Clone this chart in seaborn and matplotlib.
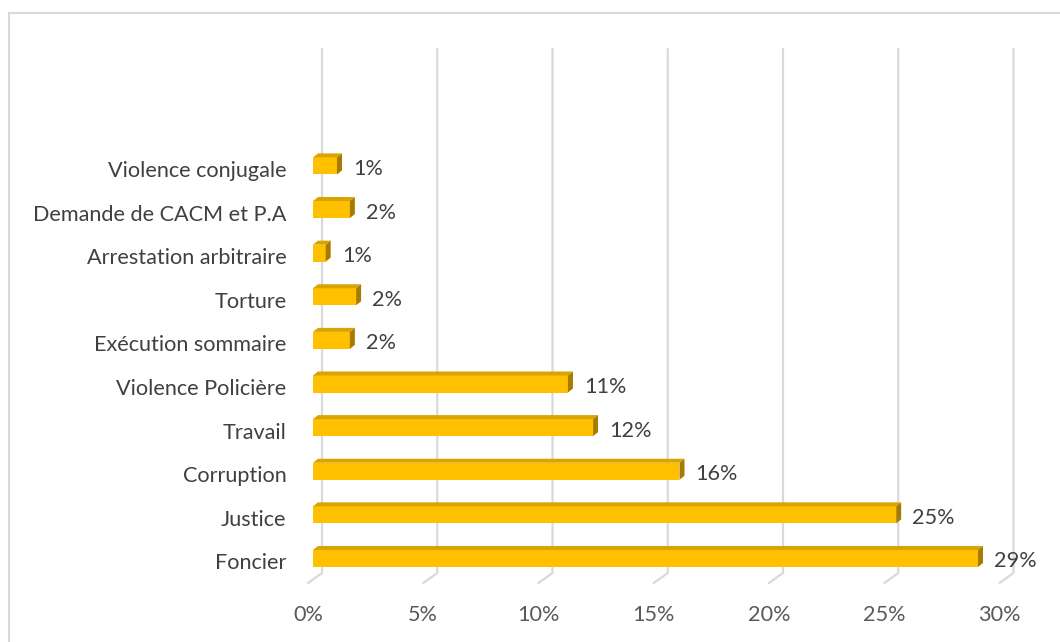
import matplotlib
matplotlib.use("Agg")
import matplotlib.pyplot as plt
import seaborn as sns
import pandas as pd
from matplotlib.patches import Polygon, Rectangle
from matplotlib.lines import Line2D
from matplotlib.transforms import IdentityTransform, ScaledTranslation

categories = ["Violence conjugale", "Demande de CACM et P.A", "Arrestation arbitraire",
              "Torture", "Exécution sommaire", "Violence Policière", "Travail",
              "Corruption", "Justice", "Foncier"]
values = [1.04, 1.6, 0.55, 1.87, 1.6, 11.06, 12.15, 15.9, 25.3, 28.85]
value_labels = ["1%", "2%", "1%", "2%", "2%", "11%", "12%", "16%", "25%", "29%"]
xticks = [0, 5, 10, 15, 20, 25, 30]
xtick_labels = ["0%", "5%", "10%", "15%", "20%", "25%", "30%"]

sns.set_theme(style="white")
plt.rcParams["font.family"] = ["Lato", "DejaVu Sans"]

W, H = 1060, 642
fig = plt.figure(figsize=(W / 100, H / 100), dpi=100)
fig.patch.set_facecolor("white")

# outer chart border
fig.add_artist(Rectangle((9 / W, -0.05), 1.1, (H - 13) / H + 0.05, transform=fig.transFigure,
                         fill=False, edgecolor="#D9D9D9", linewidth=1.5))

ax_left, ax_right, ax_top, ax_bot = 313, 1004.5, 49, 583
ax = fig.add_axes([ax_left / W, (H - ax_bot) / H, (ax_right - ax_left) / W, (ax_bot - ax_top) / H])
ax.patch.set_alpha(0)

df = pd.DataFrame({"cat": categories, "val": values})
sns.barplot(data=df, x="val", y="cat", order=categories, orient="h", color="#FFC000",
            saturation=1, width=0.39, ax=ax, zorder=2, linewidth=0, edgecolor="none")

ax.set_xlim(0, 30)
ax.set_ylim(9.562, -2.68)
ax.autoscale(False)
for s in ax.spines.values():
    s.set_visible(False)
ax.set_xlabel("")
ax.set_ylabel("")
ax.set_xticks(xticks)
ax.set_xticklabels(xtick_labels)
ax.tick_params(axis="both", length=0, labelsize=15.6, labelcolor="#595959")
ax.tick_params(axis="x", pad=16)
ax.tick_params(axis="y", pad=19)
ax.set_yticks(range(len(categories)))
ax.set_yticklabels(categories)
for lab in ax.get_xticklabels():
    lab.set_transform(lab.get_transform() + ScaledTranslation(-5 / 100, 0, fig.dpi_scale_trans))
for lab in ax.get_yticklabels():
    lab.set_transform(lab.get_transform() + ScaledTranslation(0, -3 / 100, fig.dpi_scale_trans))
    lab.set_color("#404040")

# 3D-like gridlines (back wall + floor diagonal)
y_top_disp = ax.transAxes.transform((0, 1))[1]
y_bot_disp = ax.transAxes.transform((0, 0))[1]
for t in xticks:
    xd = ax.transData.transform((t, 0))[0]
    ln = Line2D([xd + 9, xd + 9, xd - 5], [y_top_disp, y_bot_disp + 10, y_bot_disp],
                transform=IdentityTransform(), color="#D9D9D9", linewidth=1.6, zorder=0.5,
                clip_on=False)
    ax.add_artist(ln)

# 3D faces on bars
dx, dy = 5, 4
for p in ax.patches:
    if not hasattr(p, "get_width"):
        continue
    x0, y0 = p.get_x(), p.get_y()
    w, h = p.get_width(), p.get_height()
    (px0, py_a), (px1, py_b) = ax.transData.transform([(x0, y0), (x0 + w, y0 + h)])
    ytop, ybot = max(py_a, py_b), min(py_a, py_b)
    top = Polygon([(px0, ytop), (px1, ytop), (px1 + dx, ytop + dy), (px0 + dx, ytop + dy)],
                  closed=True, transform=IdentityTransform(), facecolor="#D9A300",
                  edgecolor="none", zorder=3)
    side = Polygon([(px1, ybot), (px1, ytop), (px1 + dx, ytop + dy), (px1 + dx, ybot + dy)],
                   closed=True, transform=IdentityTransform(), facecolor="#A67C00",
                   edgecolor="none", zorder=3)
    ax.add_artist(top)
    ax.add_artist(side)

for i, (v, lab) in enumerate(zip(values, value_labels)):
    ax.annotate(lab, xy=(v, i), xytext=(16, -3), textcoords="offset pixels",
                va="center", ha="left", fontsize=15.6, color="#404040")

fig.savefig("out.png", dpi=100)
